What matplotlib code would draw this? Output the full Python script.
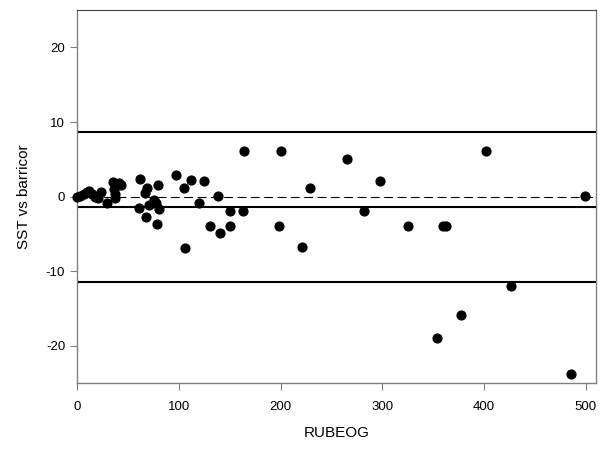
"""Bland-Altman style agreement plot: SST vs barricor against RUBEOG."""

import matplotlib
matplotlib.use("Agg")
import matplotlib.pyplot as plt

plt.rcParams["font.family"] = ["Liberation Sans", "DejaVu Sans"]
plt.rcParams["axes.unicode_minus"] = False

# values
rubeog = [0, 3, 7, 10, 12, 15, 18, 21, 24, 29, 35, 36, 37, 37, 41, 43,
          61, 62, 67, 67.5, 68.5, 71, 76, 78, 79, 80, 81, 97, 105.5, 106,
          112, 120, 125, 131, 139, 140.5, 150, 150, 163, 164,
          198, 200, 221, 229, 265.5, 282, 298, 325, 353.5, 360, 363,
          377, 402, 426, 485, 499]
diff = [0, 0.1, 0.3, 0.6, 0.7, 0.4, 0, -0.2, 0.6, -0.8, 2, 1, 0.4, -0.2, 1.8, 1.5,
        -1.5, 2.4, 0.5, -2.7, 1.1, -1.1, -0.4, -0.9, -3.7, 1.6, -1.6, 2.9, 1.1, -6.9,
        2.2, -0.8, 2.1, -3.9, 0.1, -4.9, -1.9, -3.9, -1.9, 6.1,
        -3.9, 6.1, -6.8, 1.1, 5.1, -1.9, 2.1, -3.9, -18.9, -3.9, -3.9,
        -15.9, 6.1, -11.9, -23.8, 0.1]

mean_diff = -1.35
upper_loa = 8.65
lower_loa = -11.4

fig = plt.figure(figsize=(6.04, 4.49), dpi=100)
ax = fig.add_axes([0.1275, 0.1463, 0.8593, 0.8314])

ax.axhline(upper_loa, color="black", lw=1.5, zorder=1)
ax.axhline(mean_diff, color="black", lw=1.5, zorder=1)
ax.axhline(lower_loa, color="black", lw=1.5, zorder=1)
ax.axhline(0, color="black", lw=0.8, ls=(0, (8, 4)), zorder=1)

ax.scatter(rubeog, diff, s=40, color="black", zorder=3, clip_on=False)

ax.set_xlim(0, 510)
ax.set_ylim(-25, 25)
ax.set_xticks([0, 100, 200, 300, 400, 500])
ax.set_yticks([-20, -10, 0, 10, 20])
ax.set_xlabel("RUBEOG", fontsize=11, labelpad=9)
ax.set_ylabel("SST vs barricor", fontsize=11, labelpad=11)

for side in ["left", "bottom", "right"]:
    ax.spines[side].set_color("#808080")
    ax.spines[side].set_linewidth(1)
ax.spines["top"].set_color("#404040")
ax.tick_params(direction="out", length=5, color="#808080", labelsize=9.5,
               top=False, right=False)
ax.tick_params(axis="x", pad=8)

fig.savefig("out.png", dpi=100)
